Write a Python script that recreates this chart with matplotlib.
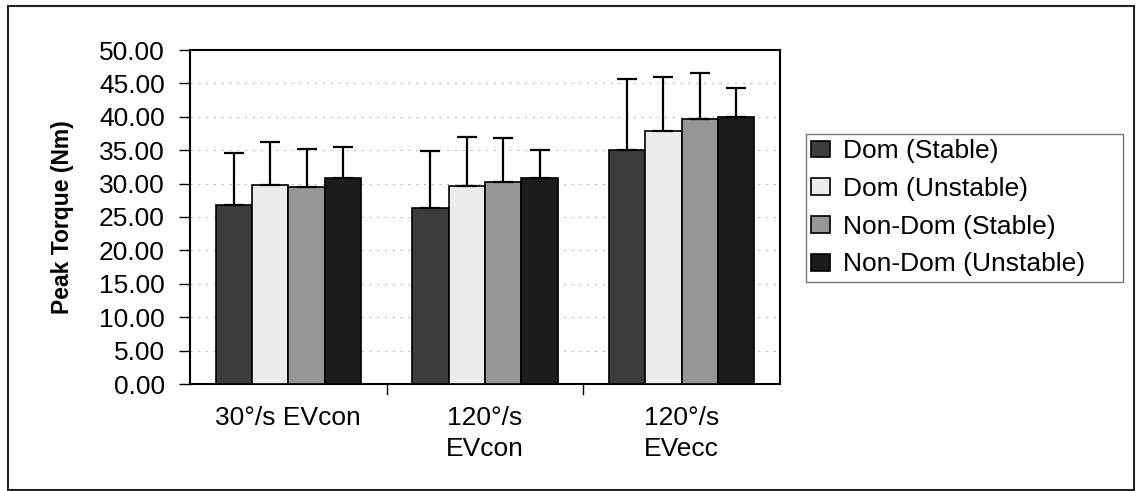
import numpy as np
import matplotlib
matplotlib.use("Agg")
import matplotlib.pyplot as plt
from matplotlib.patches import Rectangle

categories = ["30°/s EVcon", "120°/s\nEVcon", "120°/s\nEVecc"]
series = ["Dom (Stable)", "Dom (Unstable)", "Non-Dom (Stable)", "Non-Dom (Unstable)"]
dom_stable = [26.8, 26.3, 35.0]
dom_unstable = [29.8, 29.7, 37.8]
nondom_stable = [29.5, 30.2, 39.7]
nondom_unstable = [30.8, 30.9, 40.0]
err_dom_stable = [7.8, 8.6, 10.6]
err_dom_unstable = [6.5, 7.3, 8.1]
err_nondom_stable = [5.7, 6.6, 6.8]
err_nondom_unstable = [4.7, 4.2, 4.3]
yticks = [0, 5, 10, 15, 20, 25, 30, 35, 40, 45, 50]

values = [dom_stable, dom_unstable, nondom_stable, nondom_unstable]
errors = [err_dom_stable, err_dom_unstable, err_nondom_stable, err_nondom_unstable]
colors = ["#3c3c3c", "#ececec", "#969696", "#1c1c1c"]

plt.rcParams['font.family'] = ['Liberation Sans', 'DejaVu Sans']

fig = plt.figure(figsize=(11.36, 4.91), dpi=100)
fig.patches.append(Rectangle((8/1136, 1-490/491), (1134-8)/1136, (490-6)/491,
                             transform=fig.transFigure, fill=False,
                             edgecolor="#222222", linewidth=1.5))

ax = fig.add_axes([190/1136, 1-384/491, 590/1136, 334/491])
x = np.arange(len(categories))
width = 0.185
for i, (vals, errs, c, name) in enumerate(zip(values, errors, colors, series)):
    pos = x + (i - 1.5) * width
    ax.bar(pos, vals, width, color=c, edgecolor="black", linewidth=1.2,
           label=name, zorder=3)
    ax.errorbar(pos, vals, yerr=[np.zeros(len(errs)), errs], fmt="none",
                ecolor="black", elinewidth=1.6, capsize=7.5, capthick=1.6, zorder=4)

ax.set_xlim(-0.5, 2.5)
ax.set_ylim(0, 50)
ax.set_yticks(yticks)
ax.set_yticklabels([f"{v:.2f}" for v in yticks], fontsize=19)
ax.set_xticks(x)
ax.set_xticklabels(categories, fontsize=19, linespacing=1.35)
ax.tick_params(axis='x', length=0, pad=16)
ax.tick_params(axis='y', length=8, width=1, direction='out', pad=10)
for b in [0.5, 1.5]:
    ax.plot([b, b], [0, -0.03], transform=ax.get_xaxis_transform(),
            color="black", linewidth=1, clip_on=False)
ax.yaxis.grid(True, color="#c0c0c0", linestyle=(0, (2, 5)), linewidth=0.8, zorder=0)
for s in ax.spines.values():
    s.set_linewidth(1.5)
    s.set_color("black")
ax.set_ylabel("Peak Torque (Nm)", fontsize=16.5, fontweight="bold", labelpad=18)

leg = ax.legend(loc="upper left", bbox_to_anchor=(806/1136, 1-283/491, (1123-806)/1136, (283-134)/491),
                bbox_transform=fig.transFigure, mode="expand", fontsize=19, frameon=True,
                fancybox=False, edgecolor="#555555", handlelength=0.7, handleheight=0.6,
                handletextpad=0.5, labelspacing=0.52, borderpad=0.2, borderaxespad=0)
leg.get_frame().set_linewidth(1.0)

fig.savefig("out.png", dpi=100)
